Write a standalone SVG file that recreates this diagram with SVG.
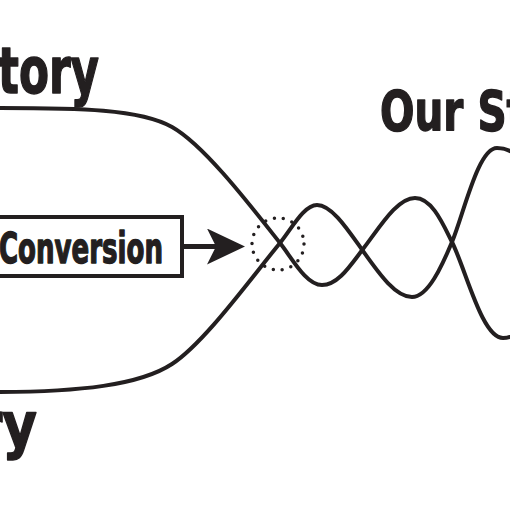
<svg xmlns="http://www.w3.org/2000/svg" width="510" height="510" viewBox="0 0 510 510">
  <style>
    .lbl { font-family: "DejaVu Sans", "Liberation Sans", sans-serif; font-weight: bold; font-stretch: condensed; fill: #231f20; stroke: #231f20; stroke-width: 1.4; stroke-linejoin: round; }
    .curve { fill: none; stroke: #231f20; stroke-width: 4; stroke-linecap: round; stroke-linejoin: round; }
    .box { fill: #ffffff; stroke: #231f20; stroke-width: 4; }
    .shaft { stroke: #231f20; stroke-width: 5; fill: none; }
    .dots { fill: none; stroke: #231f20; stroke-width: 3.5; stroke-linecap: round; stroke-dasharray: 0 9.08; }
  </style>
  <defs>
    <marker id="head" markerUnits="userSpaceOnUse" markerWidth="40" markerHeight="40" viewBox="0 0 40 40" refX="13" refY="18" orient="auto">
      <path d="M0,0 L38,18 L0,36 L9,18 Z" fill="#231f20"/>
    </marker>
  </defs>
  <rect width="510" height="510" fill="#ffffff"/>

  <g id="connectors">
    <path class="curve" d="M-5,108 C80,108 140,109 172,127 C204,145 250,205 280,243 C292,258 306,285 322,285 C338,285 350,266 363,249 C380,227 397,198 415,198 C432,198 443,224 452,242 C466,270 482,338 503,338 C515,338 522,330 530,315"/>
    <path class="curve" d="M-5,392 C80,392 140,385 172,364 C204,343 248,282 280,243 C292,228 304,205 317,205 C332,205 348,230 363,251 C378,272 395,297 412,297 C428,297 442,266 452,242 C464,213 478,148 497,148 C510,148 518,155 525,168"/>
    <line class="shaft" x1="184" y1="246.5" x2="220" y2="246.5" marker-end="url(#head)"/>
  </g>

  <g id="focus-circle">
    <circle class="dots" cx="278" cy="244" r="26"/>
  </g>

  <g id="node-conversion">
    <rect class="box" x="-10" y="217" width="192" height="59"/>
    <text class="lbl" x="-1" y="263" font-size="42" textLength="164" lengthAdjust="spacingAndGlyphs">Conversion</text>
  </g>

  <g id="label-top">
    <text class="lbl" x="-2" y="93" font-size="64" textLength="101" lengthAdjust="spacingAndGlyphs">tory</text>
  </g>

  <g id="label-bottom">
    <text class="lbl" x="-24" y="447" font-size="62" textLength="61" lengthAdjust="spacingAndGlyphs">ry</text>
  </g>

  <g id="label-right">
    <text class="lbl" x="380" y="130" font-size="56" textLength="146" lengthAdjust="spacingAndGlyphs">Our St</text>
  </g>
</svg>
